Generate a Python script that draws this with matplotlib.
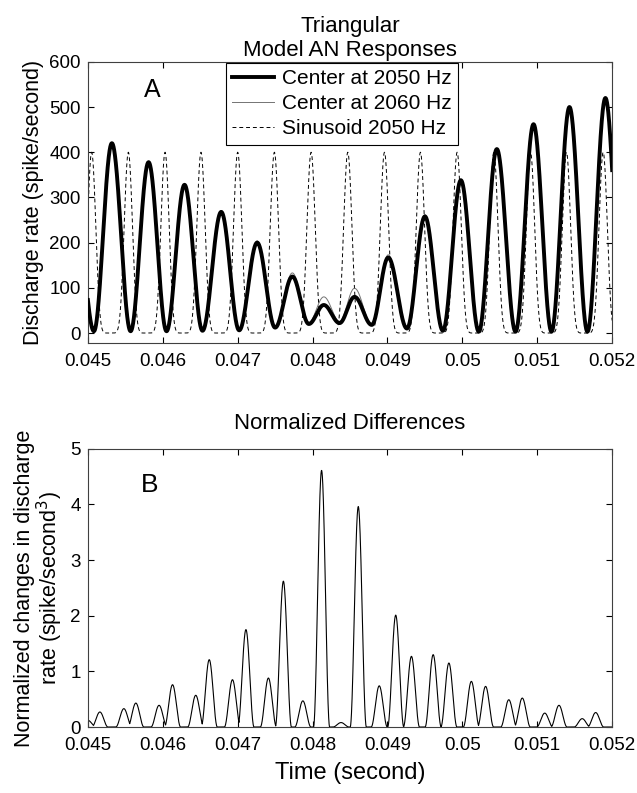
import numpy as np
import matplotlib
matplotlib.use('Agg')
import matplotlib.pyplot as plt

plt.rcParams['font.family'] = ['Liberation Sans', 'DejaVu Sans']

# ---------------- Panel A data ----------------
# peaks and troughs of the model AN responses (spike/second)
peak_t = [0.04532, 0.04581, 0.04629, 0.04678, 0.04726, 0.04773, 0.04815, 0.04856,
          0.04901, 0.04950, 0.04998, 0.05046, 0.05095, 0.05143, 0.05191]
peak_2050 = [420, 378, 328, 268, 200, 125, 62, 80, 167, 258, 338, 407, 462, 500, 520]
peak_2060 = [420, 380, 330, 271, 204, 133, 80, 99, 173, 262, 341, 408, 462, 500, 520]
trough_t = [0.04508, 0.04557, 0.04605, 0.04653, 0.04702, 0.04750, 0.04795, 0.04836,
            0.04879, 0.04926, 0.04974, 0.05022, 0.05071, 0.05119, 0.05167]
trough_2050 = [4, 4, 4, 5, 6, 12, 20, 22, 18, 10, 5, 3, 3, 3, 3]
trough_2060 = [4, 4, 4, 5, 7, 14, 24, 26, 20, 11, 5, 3, 3, 3, 3]
edge_t = [0.04484, 0.05215]          # extrema just outside the plotted window
edge_2050 = [280, 3]
edge_2060 = [280, 3]

# sinusoid response peaks
sin_t = [0.04505, 0.04554, 0.04603, 0.04651, 0.04700, 0.04749, 0.04798, 0.04847,
         0.04896, 0.04944, 0.04993, 0.05042, 0.05091, 0.05139, 0.05188]
sin_peak = [400, 400, 400, 400, 400, 400, 400, 400, 400, 400, 400, 400, 400, 400, 400]

# ---------------- Panel B data ----------------
diff_t = [0.04500, 0.04516, 0.04548, 0.04564, 0.04595, 0.04613, 0.04644, 0.04662,
          0.04693, 0.04711, 0.04741, 0.04761, 0.04787, 0.04812, 0.04838, 0.04861,
          0.04889, 0.04911, 0.04932, 0.04961, 0.04982, 0.05012, 0.05031, 0.05062,
          0.05080, 0.05110, 0.05129, 0.05160, 0.05178]
diff_v = [0.12, 0.27, 0.33, 0.43, 0.39, 0.76, 0.57, 1.21,
          0.85, 1.75, 0.88, 2.62, 0.47, 4.61, 0.08, 3.96,
          0.74, 2.01, 1.27, 1.30, 1.15, 0.82, 0.73, 0.49,
          0.52, 0.25, 0.39, 0.15, 0.26]

xticks = [0.045, 0.046, 0.047, 0.048, 0.049, 0.05, 0.051, 0.052]
xticklabels = ['0.045', '0.046', '0.047', '0.048', '0.049', '0.05', '0.051', '0.052']


def eased_curve(t, times, values):
    order = np.argsort(times)
    tt = np.asarray(times)[order]
    vv = np.asarray(values, dtype=float)[order]
    idx = np.clip(np.searchsorted(tt, t) - 1, 0, len(tt) - 2)
    s = (t - tt[idx]) / (tt[idx + 1] - tt[idx])
    s = np.clip(s, 0, 1)
    return vv[idx] + (vv[idx + 1] - vv[idx]) * (1 - np.cos(np.pi * s)) / 2


def pulses(t, centers, heights, half_width, power):
    out = np.zeros_like(t)
    for c, h in zip(centers, heights):
        x = (t - c) / half_width
        m = np.abs(x) < 1
        g = np.zeros_like(t)
        g[m] = h * ((1 + np.cos(np.pi * x[m])) / 2) ** power
        out = np.maximum(out, g)
    return out


t = np.linspace(0.045, 0.052, 6000)
resp_2050 = eased_curve(t, list(trough_t) + list(peak_t) + edge_t,
                        list(trough_2050) + list(peak_2050) + edge_2050)
resp_2060 = eased_curve(t, list(trough_t) + list(peak_t) + edge_t,
                        list(trough_2060) + list(peak_2060) + edge_2060)
resp_sin = pulses(t, sin_t, sin_peak, 0.000244, 4)
norm_diff = pulses(t, diff_t, diff_v, 0.000108, 1)

fig = plt.figure(figsize=(6.37, 7.93), dpi=100)
axA = fig.add_axes([0.138, 0.5675, 0.823, 0.3545])
axB = fig.add_axes([0.138, 0.0832, 0.823, 0.3510])

axA.plot(t, resp_sin, color='black', lw=0.7, ls=(0, (4, 3)), label='Sinusoid 2050 Hz', zorder=2)
axA.plot(t, resp_2060, color='0.45', lw=0.7, label='Center at 2060 Hz', zorder=2.5)
axA.plot(t, resp_2050, color='black', lw=2.8, label='Center at 2050 Hz', zorder=3)
axA.set_xlim(0.045, 0.052)
axA.set_ylim(-22, 600)
axA.set_yticks([0, 100, 200, 300, 400, 500, 600])
axA.set_xticks(xticks)
axA.set_xticklabels(xticklabels)
axA.set_ylabel('Discharge rate (spike/second)', fontsize=15.5, labelpad=4)
axA.set_title('Triangular\nModel AN Responses', fontsize=16, pad=4, linespacing=1.2)
axA.text(0.04586, 538, 'A', fontsize=18, ha='center', va='center')
handles, labels = axA.get_legend_handles_labels()
order = [2, 1, 0]
leg = axA.legend([handles[i] for i in order], [labels[i] for i in order],
                 loc='upper left', bbox_to_anchor=(0.263, 0.997), borderaxespad=0,
                 fontsize=15, frameon=True, fancybox=False, framealpha=1,
                 edgecolor='black', handlelength=2.0, handletextpad=0.4,
                 labelspacing=0.3, borderpad=0.3)
leg.get_frame().set_linewidth(0.8)

axB.plot(t, norm_diff, color='black', lw=0.8)
axB.set_xlim(0.045, 0.052)
axB.set_ylim(0, 5)
axB.set_yticks([0, 1, 2, 3, 4, 5])
axB.set_xticks(xticks)
axB.set_xticklabels(xticklabels)
axB.set_ylabel('Normalized changes in discharge\nrate (spike/second$^3$)', fontsize=15.5,
               labelpad=4, linespacing=1.0)
axB.set_xlabel('Time (second)', fontsize=17, labelpad=6)
axB.set_title('Normalized Differences', fontsize=16, pad=14)
axB.text(0.04582, 4.35, 'B', fontsize=19, ha='center', va='center')

for ax in (axA, axB):
    ax.tick_params(direction='in', top=True, right=True, length=4, width=0.8,
                   labelsize=13.5, pad=5)
    ax.tick_params(axis='x', pad=7)
    for sp in ax.spines.values():
        sp.set_linewidth(0.8)
        sp.set_color('0.25')

fig.savefig('out.png', dpi=100)
